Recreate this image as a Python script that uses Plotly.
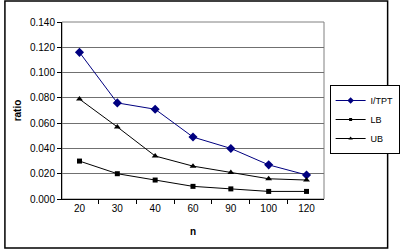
import plotly.graph_objects as go

categories = ["20", "30", "40", "60", "90", "100", "120"]
itpt = [0.116, 0.076, 0.071, 0.049, 0.040, 0.027, 0.019]
lb = [0.030, 0.020, 0.015, 0.010, 0.008, 0.006, 0.006]
ub = [0.079, 0.057, 0.034, 0.026, 0.021, 0.016, 0.015]

W, H = 412, 250
L, R, T, B = 62, 70, 22, 51
pw, ph = W - L - R, H - T - B

series = [
    ("I/TPT", itpt, "#000080", "diamond", 7),
    ("LB", lb, "#000000", "square", 5),
    ("UB", ub, "#000000", "triangle-up", 6),
]

fig = go.Figure()
for name, vals, col, sym, sz in series:
    fig.add_trace(go.Scatter(x=categories, y=vals, name=name, mode="lines+markers",
                             line=dict(color=col, width=1), showlegend=False,
                             marker=dict(symbol=sym, size=sz, color=col)))
for name, vals, col, sym, sz in series:
    fig.add_trace(go.Scatter(x=[None], y=[None], name=name, mode="lines+markers",
                             line=dict(color=col, width=1),
                             marker=dict(symbol=sym, size=sz - 2, color=col)))

font = dict(family="Liberation Sans, Arial, sans-serif", size=10, color="#000000")

fig.update_layout(
    width=W, height=H,
    margin=dict(l=L, r=R, t=T, b=B),
    paper_bgcolor="white", plot_bgcolor="white",
    font=font,
    showlegend=True,
    legend=dict(x=(348 - L) / pw, y=(H - B - 85) / ph, xanchor="left", yanchor="top",
                bordercolor="#000000", borderwidth=1, bgcolor="white",
                font=dict(family="Liberation Sans, Arial, sans-serif", size=9),
                itemwidth=30, tracegroupgap=0),
    xaxis=dict(type="category", title=dict(text="<b>n</b>", standoff=14,
                                           font=dict(size=10)),
               showline=True, linecolor="#000000", linewidth=1,
               ticks="outside", tickson="boundaries", ticklen=4, tickcolor="#000000",
               showgrid=False, zeroline=False),
    yaxis=dict(range=[0, 0.14], dtick=0.02, tickformat=".3f",
               title=dict(text="<b>ratio</b>", standoff=6, font=dict(size=10)),
               showline=True, linecolor="#000000", linewidth=1,
               ticks="outside", ticklen=4, tickcolor="#000000",
               showgrid=True, gridcolor="#707070", gridwidth=1, zeroline=False),
    shapes=[
        dict(type="rect", xref="paper", yref="paper", x0=0, x1=1, y0=0, y1=1,
             line=dict(color="#808080", width=1), layer="below"),
        dict(type="rect", xref="paper", yref="paper",
             x0=(1 - L) / pw, x1=(410 - L) / pw,
             y0=(H - B - 248) / ph, y1=(H - B - 1) / ph,
             line=dict(color="#000000", width=1.5)),
    ],
)

fig.write_html("out.html")
